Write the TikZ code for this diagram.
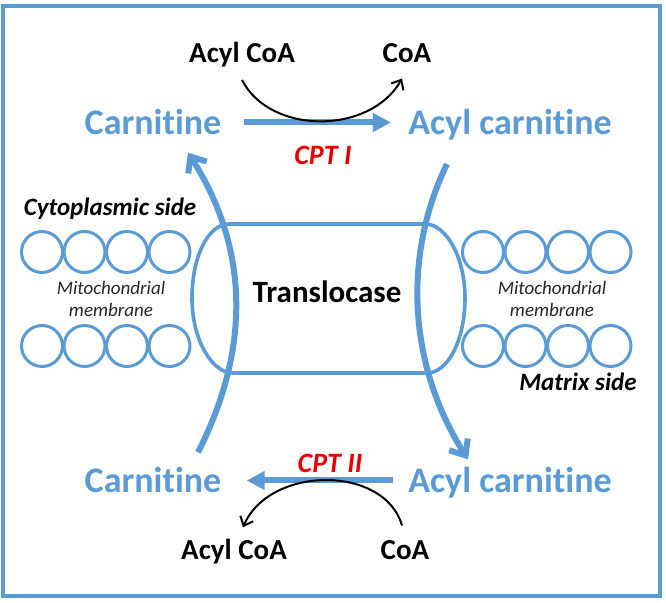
\documentclass[tikz,border=0pt]{standalone}
\usepackage{fontspec}
\setmainfont{Carlito}[RawFeature=-liga]
\usetikzlibrary{arrows.meta,calc}
\definecolor{membraneblue}{RGB}{91,155,213}
\definecolor{enzymered}{RGB}{232,0,0}
\begin{document}
\begin{tikzpicture}[x=0.5pt,y=-0.5pt,
  metab/.style={text=membraneblue,font=\fontsize{18}{21}\selectfont\bfseries,inner sep=0pt,anchor=base},
  coa/.style={font=\fontsize{14.5}{17}\selectfont\bfseries,inner sep=0pt,anchor=base},
  enzyme/.style={text=enzymered,font=\fontsize{14}{16}\selectfont\bfseries\itshape,inner sep=0pt,anchor=base},
  side/.style={font=\fontsize{12.5}{15}\selectfont\bfseries\itshape,inner sep=0pt,anchor=base},
  memtext/.style={font=\fontsize{9.5}{11}\selectfont\itshape,align=center,inner sep=0pt,text=black!85},
  lipid/.style={draw=membraneblue,line width=1.5pt},
  transport/.style={draw=membraneblue,line width=3pt,-{Straight Barb[length=6.5pt,width=11pt]}},
  reaction/.style={draw=membraneblue,line width=3pt,-{Triangle[length=9pt,width=9pt]}},
  cofactor/.style={draw=black,line width=1pt,-{Straight Barb[length=4pt,width=7pt]}}]
\useasboundingbox (0,0) rectangle (666,603);

% Frame
\draw[draw=membraneblue,line width=2pt] (3.5,6.5) rectangle (660,596.5);

% Membrane
\foreach \cx in {42,84.5,127,169.5,483,525.5,568,610.5}
  \foreach \cy in {252,346}
    \draw[lipid] (\cx,\cy) circle[radius=10.25pt];
\node[memtext] (memL) at (111,299) {Mitochondrial\\membrane};
\node[memtext] (memR) at (552,299) {Mitochondrial\\membrane};
\node[side] (cyto) at (110,216) {Cytoplasmic side};
\node[side] (matrix) at (578,391) {Matrix side};

% Translocase
\draw[draw=membraneblue,line width=1.8pt] (229,224) -- (425,224)
  .. controls (446,224) and (465,257) .. (465,298)
  .. controls (465,340) and (448,373) .. (427,373) -- (233,373)
  .. controls (212,373) and (192,340) .. (192,298)
  .. controls (192,257) and (208,224) .. cycle;
\node[font=\fontsize{15.5}{18}\selectfont\bfseries,inner sep=0pt,anchor=base] (transl) at (327,303) {Translocase};

% Labels
\node[metab] (carnT) at (153,135) {Carnitine};
\node[metab] (acylT) at (510,135) {Acyl carnitine};
\node[metab] (carnB) at (153,493) {Carnitine};
\node[metab] (acylB) at (510,493) {Acyl carnitine};
\node[coa] (acoaT) at (242,63) {Acyl CoA};
\node[coa] (coaT) at (407,63) {CoA};
\node[coa] (acoaB) at (234,560) {Acyl CoA};
\node[coa] (coaB) at (405,560) {CoA};
\node[enzyme] (cpt1) at (323,165) {CPT I};
\node[enzyme] (cpt2) at (330,473) {CPT II};

% Reactions
\draw[reaction,shorten <=11pt,shorten >=8.5pt] (carnT.east) -- (carnT.east -| acylT.west);
\draw[reaction,shorten <=7.5pt,shorten >=12.5pt] (carnB.east -| acylB.west) -- (carnB.east);
\draw[cofactor] ($(acoaT.south)+(0,12)$) .. controls (270,135) and (370,135) .. ($(coaT.south)+(-5,15)$);
\draw[cofactor] ($(coaB.north)+(-3,-15)$) .. controls (385,465) and (270,465) .. ($(acoaB.north)+(9,-12)$);

% Transport through the membrane
\draw[transport] ($(carnB.north)+(45,-15)$) .. controls (250,350) and (250,250) .. ($(carnT.south)+(35,17)$);
\draw[transport] ($(acylT.south)+(-63,23)$) .. controls (405,250) and (405,360) .. ($(acylB.north)+(-42,-8)$);
\end{tikzpicture}
\end{document}
